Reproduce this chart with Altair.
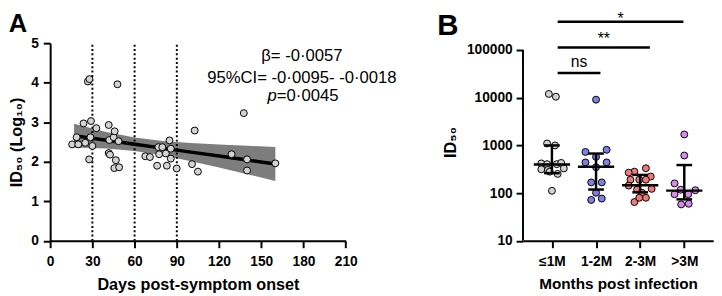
import altair as alt
import pandas as pd

FONT = "Liberation Sans"

# ---------------- Panel A data ----------------
a_days = [15.6, 18.8, 20, 23.7, 24.9, 26.8, 27.9, 27.7, 29, 28.6, 30, 32.8, 41.6, 42, 41.6, 42.5,
          45.1, 45.8, 46.7, 45.6, 49, 48.6, 47.8, 67.6, 70.9, 76, 76.9, 77.4, 79.7, 82.9, 82.2,
          84.8, 85.7, 85.7, 89.9, 100.8, 102.7, 105, 128.9, 137.6, 139.9, 139.9, 160]
a_log_id50 = [2.44, 2.62, 2.44, 2.97, 2.48, 4.03, 4.09, 2.06, 3.03, 2.62, 2.40, 2.85, 2.93, 2.55,
              2.22, 2.18, 2.62, 2.77, 2.04, 1.84, 1.86, 2.52, 3.96, 2.14, 2.12, 1.90, 2.37, 2.19,
              2.37, 1.90, 2.21, 2.54, 2.33, 2.08, 1.83, 1.94, 2.79, 1.75, 2.19, 3.23, 2.06, 1.78, 1.96]
fit_days = [17, 40, 60, 80, 100, 120, 140, 160]
fit_mid = [2.66, 2.545, 2.445, 2.345, 2.245, 2.145, 2.045, 1.945]
fit_lo = [2.36, 2.335, 2.275, 2.165, 2.015, 1.855, 1.685, 1.515]
fit_hi = [2.96, 2.755, 2.615, 2.525, 2.475, 2.435, 2.405, 2.375]
cutoff_days = [30, 60, 90]
a_x_ticks = [0, 30, 60, 90, 120, 150, 180, 210]
a_y_ticks = [0, 1, 2, 3, 4, 5]
beta_text = "β= -0·0057"
ci_text = "95%CI= -0·0095- -0·0018"
p_symbol = "p"
p_text = "=0·0045"

# ---------------- Panel B data ----------------
groups = ["≤1M", "1-2M", "2-3M", ">3M"]
group_colors = ["#d2d2d2", "#8080e4", "#f07a7a", "#d68aec"]
g0_vals = [12000, 10500, 1100, 1000, 420, 405, 405, 430, 316, 306, 330, 253, 282, 112]
g0_off = [-0.07, 0.09, -0.11, 0.07, -0.24, -0.11, 0.11, 0.21, -0.24, -0.09, 0.27, 0.13, -0.05, 0.0]
g1_vals = [9100, 730, 810, 575, 440, 440, 350, 168, 168, 102, 72, 77]
g1_off = [0.0, -0.24, 0.24, 0.0, -0.24, 0.24, 0.0, -0.11, 0.13, 0.0, -0.11, 0.13]
g2_vals = [332, 282, 269, 223, 191, 191, 191, 144, 123, 119, 102, 80, 65, 80]
g2_off = [0.13, -0.13, -0.26, 0.24, -0.22, -0.02, 0.13, -0.26, 0.26, -0.07, 0.04, 0.13, -0.13, -0.02]
g3_vals = [1700, 615, 160, 115, 95, 118, 95, 58, 60]
g3_off = [0.0, 0.0, -0.22, 0.25, -0.22, -0.08, 0.09, -0.07, 0.1]
b_median = [400, 358, 146, 113]
b_q1 = [262, 119, 104, 74]
b_q3 = [1000, 676, 241, 388]
b_y_ticks = [10, 100, 1000, 10000, 100000]
sig_labels = ["ns", "**", "*"]
sig_x1 = [0.13, 0.13, 0.13]
sig_x2 = [1.1, 2.22, 2.98]
sig_level = [33000, 113500, 390000]

# ---------------- layout constants ----------------
W_A, H_A = 301.4, 201.6
W_B, H_B = 194, 201.6

# ---------------- Panel A ----------------
xA_scale = alt.Scale(domain=[a_x_ticks[0], a_x_ticks[-1]], nice=False, zero=False)
yA_scale = alt.Scale(domain=[a_y_ticks[0], a_y_ticks[-1]], nice=False, zero=False)
xA_axis = alt.Axis(values=a_x_ticks, title="Days post-symptom onset", titleFontSize=16.5,
                   labelPadding=7, titlePadding=9)
yA_axis = alt.Axis(values=a_y_ticks, title="ID₅₀ (Log₁₀)", titleFontSize=16.5,
                   labelPadding=5, titlePadding=6)


def XA(field):
    return alt.X(field, type="quantitative", scale=xA_scale, axis=xA_axis)


def YA(field):
    return alt.Y(field, type="quantitative", scale=yA_scale, axis=yA_axis)


pts_a = pd.DataFrame({"day": a_days, "val": a_log_id50})
fit = pd.DataFrame({"day": fit_days, "mid": fit_mid, "lo": fit_lo, "hi": fit_hi})
cut = pd.DataFrame({"day": cutoff_days, "y0": [a_y_ticks[0]] * len(cutoff_days),
                    "y1": [a_y_ticks[-1]] * len(cutoff_days)})

band = alt.Chart(fit).mark_area(color="#7d7d7d", opacity=1).encode(
    x=XA("day"), y=YA("lo"), y2="hi:Q")
cut_rules = alt.Chart(cut).mark_rule(color="black", strokeWidth=2, strokeDash=[2, 2.4]).encode(
    x=XA("day"), y=YA("y0"), y2="y1:Q")
fit_line = alt.Chart(fit).mark_line(color="black", strokeWidth=3.5).encode(
    x=XA("day"), y=YA("mid"))
points_a = alt.Chart(pts_a).mark_circle(color="#d3d3d3", stroke="black", strokeWidth=1,
                                         size=50, opacity=1).encode(
    x=XA("day"), y=YA("val"))


def label(text, x, y, size, weight="normal", align="left", style="normal", baseline="alphabetic"):
    return alt.Chart(pd.DataFrame({"t": [text]})).mark_text(
        font=FONT, fontSize=size, fontWeight=weight, fontStyle=style, align=align,
        baseline=baseline, color="black").encode(text="t:N", x=alt.value(x), y=alt.value(y))


letter_a = label("A", -42.3, -11.7, 26, weight="bold")
stat1 = label(beta_text, 256.7, 13.6, 17, align="center", baseline="middle")
stat2 = label(ci_text, 256.7, 36.0, 17, align="center", baseline="middle")
stat3a = label(p_symbol, 221.7, 53.8, 17, align="left", style="italic", baseline="middle")
stat3b = label(p_text, 231.2, 53.8, 17, align="left", baseline="middle")

chart_a = alt.layer(band, cut_rules, fit_line, points_a, letter_a, stat1, stat2, stat3a,
                    stat3b).properties(width=W_A, height=H_A)

# ---------------- Panel B ----------------
rows = []
for gi, (vals, offs) in enumerate([(g0_vals, g0_off), (g1_vals, g1_off),
                                   (g2_vals, g2_off), (g3_vals, g3_off)]):
    for v, o in zip(vals, offs):
        rows.append({"group": groups[gi], "gi": gi, "off": o, "id50": v})
pts_b = pd.DataFrame(rows)
summ = pd.DataFrame({"gi": list(range(len(groups))), "med": b_median, "q1": b_q1, "q3": b_q3})
sig = pd.DataFrame({"label": sig_labels, "x1": sig_x1, "x2": sig_x2, "level": sig_level})
yline = pd.DataFrame({"lo": [b_y_ticks[0]], "hi": [b_y_ticks[-1]]})

xB_scale = alt.Scale(domain=[-0.656, len(groups) - 1 + 0.656], nice=False, zero=False)
yB_scale = alt.Scale(type="log", domain=[10, 139300], nice=False)
label_expr = "[" + ",".join("'" + g + "'" for g in groups) + "][datum.value]"
xB_axis = alt.Axis(values=list(range(len(groups))), labelExpr=label_expr,
                   title="Months post infection", titleFontSize=15.6, labelPadding=7,
                   titlePadding=9)
yB_axis = alt.Axis(values=b_y_ticks, format="d", domain=False, title="ID₅₀", titleFontSize=16.5,
                   labelPadding=4, titlePadding=7.6)


def XB(field):
    return alt.X(field, type="quantitative", scale=xB_scale, axis=xB_axis)


def YB(field):
    return alt.Y(field, type="quantitative", scale=yB_scale, axis=yB_axis)


points_b = alt.Chart(pts_b).transform_calculate(xpos="datum.gi + datum.off").mark_circle(
    stroke="black", strokeWidth=1, size=50, opacity=1).encode(
    x=XB("xpos"), y=YB("id50"),
    color=alt.Color("group:N", scale=alt.Scale(domain=groups, range=group_colors), legend=None),
)
y_domain_line = alt.Chart(yline).mark_rule(color="black", strokeWidth=2).encode(
    x=alt.value(0), y=YB("lo"), y2="hi:Q")
iqr = alt.Chart(summ).mark_rule(color="black", strokeWidth=2.5).encode(
    x=XB("gi"), y=YB("q1"), y2="q3:Q")
cap_lo = alt.Chart(summ).mark_tick(color="black", orient="horizontal", size=16, thickness=2.5,
                                   opacity=1).encode(x=XB("gi"), y=YB("q1"))
cap_hi = alt.Chart(summ).mark_tick(color="black", orient="horizontal", size=16, thickness=2.5,
                                   opacity=1).encode(x=XB("gi"), y=YB("q3"))
med = alt.Chart(summ).mark_tick(color="black", orient="horizontal", size=37, thickness=2.5,
                                opacity=1).encode(x=XB("gi"), y=YB("med"))
brackets = alt.Chart(sig).mark_rule(color="black", strokeWidth=2.5).encode(
    x=XB("x1"), x2="x2:Q", y=YB("level"))
sig_dy = {"ns": -6, "**": -3, "*": 1.8}
sig_texts = []
for lab in sig_labels:
    sig_texts.append(
        alt.Chart(sig).transform_filter(alt.datum.label == lab)
        .transform_calculate(xm="(datum.x1 + datum.x2) / 2")
        .mark_text(font=FONT, fontSize=16, color="black", align="center", baseline="alphabetic",
                   dy=sig_dy[lab])
        .encode(x=XB("xm"), y=YB("level"), text="label:N"))
letter_b = label("B", -87.4, -8.7, 30, weight="bold")

chart_b = alt.layer(points_b, y_domain_line, iqr, cap_lo, cap_hi, med, brackets, *sig_texts,
                    letter_b).properties(width=W_B, height=H_B)

chart = alt.hconcat(chart_a, chart_b, spacing=40.2).properties(
    padding=0, background="white"
).configure_view(stroke=None).configure_axis(
    labelFont=FONT, labelFontSize=14, labelFontWeight="bold", labelColor="black",
    titleFont=FONT, titleFontWeight="bold", titleColor="black",
    domainColor="black", domainWidth=2, tickColor="black", tickWidth=2,
    tickSize=7, grid=False, labelFlush=False, labelOverlap=False,
)

chart.save("out.html", embed_options={"renderer": "svg", "actions": False})
